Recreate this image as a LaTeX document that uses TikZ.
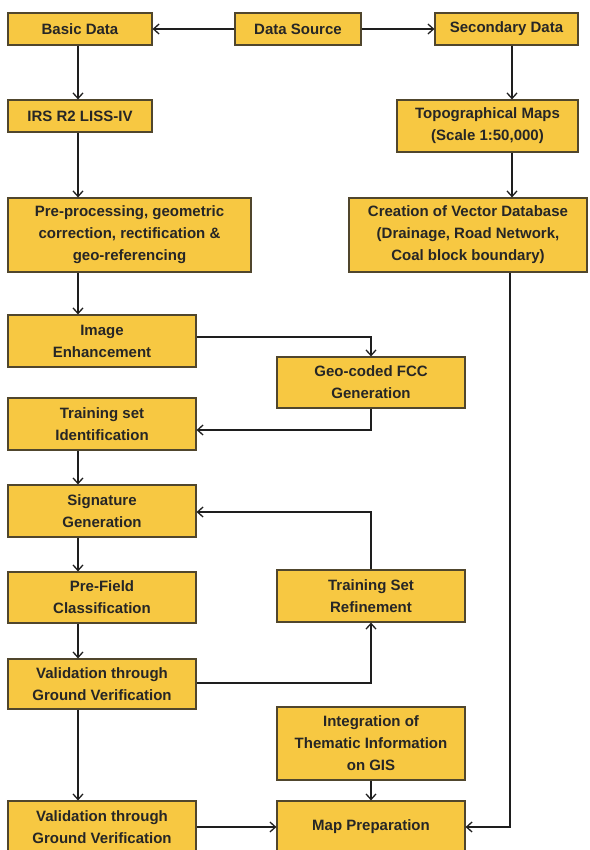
\documentclass[tikz,border=0pt]{standalone}
\usepackage{fontspec}
\setmainfont{Liberation Sans}
\usetikzlibrary{arrows.meta}
\definecolor{boxfill}{RGB}{247,200,66}
\definecolor{boxline}{RGB}{80,70,45}
\definecolor{lineclr}{RGB}{30,30,30}
\tikzset{
  box/.style={draw=boxline, line width=1.2pt, fill=boxfill, rectangle, inner sep=0pt,
    align=center, font=\fontsize{15}{22}\selectfont\bfseries, text=black!85},
  flow/.style={draw=lineclr, line width=1.9pt, -{Straight Barb[length=5.5pt,width=10pt,line width=1.3pt]}},
  thin/.style={draw=lineclr, line width=1.2pt, -{Straight Barb[length=5.5pt,width=10pt,line width=1.3pt]}},
}
\begin{document}
\begin{tikzpicture}[x=1pt,y=-1pt]
\useasboundingbox (0,0) rectangle (589,850);
\node[box, minimum width=144pt, minimum height=32pt] (basic) at (80,29) {Basic Data};
\node[box, minimum width=126pt, minimum height=32pt] (src) at (298,29) {Data Source};
\node[box, minimum width=143pt, minimum height=32pt] (sec) at (506.5,29) {Secondary Data};
\node[box, minimum width=144pt, minimum height=32pt] (irs) at (80,116) {IRS R2 LISS-IV};
\node[box, minimum width=181pt, minimum height=52pt] (topo) at (487.5,126) {Topographical Maps\\(Scale 1:50,000)};
\node[box, minimum width=243pt, minimum height=74pt] (pre) at (129.5,235) {Pre-processing, geometric\\correction, rectification \&\\geo-referencing};
\node[box, minimum width=238pt, minimum height=74pt] (vec) at (468,235) {Creation of Vector Database\\(Drainage, Road Network,\\Coal block boundary)};
\node[box, minimum width=188pt, minimum height=52pt] (enh) at (102,341) {Image\\Enhancement};
\node[box, minimum width=188pt, minimum height=51pt] (geo) at (371,382.5) {Geo-coded FCC\\Generation};
\node[box, minimum width=188pt, minimum height=52pt] (tsi) at (102,424) {Training set\\Identification};
\node[box, minimum width=188pt, minimum height=52pt] (sig) at (102,511) {Signature\\Generation};
\node[box, minimum width=188pt, minimum height=51pt] (pf) at (102,597.5) {Pre-Field\\Classification};
\node[box, minimum width=188pt, minimum height=52pt] (tsr) at (371,596) {Training Set\\Refinement};
\node[box, minimum width=188pt, minimum height=50pt] (val1) at (102,684) {Validation through\\Ground Verification};
\node[box, minimum width=188pt, minimum height=73pt] (integ) at (371,743.5) {Integration of\\Thematic Information\\on GIS};
\node[box, minimum width=188pt, minimum height=52pt] (val2) at (102,827) {Validation through\\Ground Verification};
\node[box, minimum width=188pt, minimum height=52pt] (map) at (371,827) {Map Preparation};

\draw[flow] (src.west) -- (basic.east);
\draw[flow] (src.east) -- (sec.west);
\draw[flow] (basic.south -| 78,0) -- (irs.north -| 78,0);
\draw[flow] (irs.south -| 78,0) -- (pre.north -| 78,0);
\draw[flow] (pre.south -| 78,0) -- (enh.north -| 78,0);
\draw[flow] (sec.south -| 512,0) -- (topo.north -| 512,0);
\draw[flow] (topo.south -| 512,0) -- (vec.north -| 512,0);
\draw[flow] (vec.south -| 510,0) |- (map.east);
\draw[thin] (enh.east |- 0,337) -| (geo.north);
\draw[flow] (geo.south) |- (tsi.east |- 0,430);
\draw[flow] (tsi.south -| 78,0) -- (sig.north -| 78,0);
\draw[flow] (sig.south -| 78,0) -- (pf.north -| 78,0);
\draw[flow] (pf.south -| 78,0) -- (val1.north -| 78,0);
\draw[flow] (val1.south -| 78,0) -- (val2.north -| 78,0);
\draw[thin] (val1.east |- 0,683) -| (tsr.south);
\draw[thin] (tsr.north) |- (sig.east |- 0,512);
\draw[flow] (integ.south) -- (map.north);
\draw[flow] (val2.east) -- (map.west);
\end{tikzpicture}
\end{document}
